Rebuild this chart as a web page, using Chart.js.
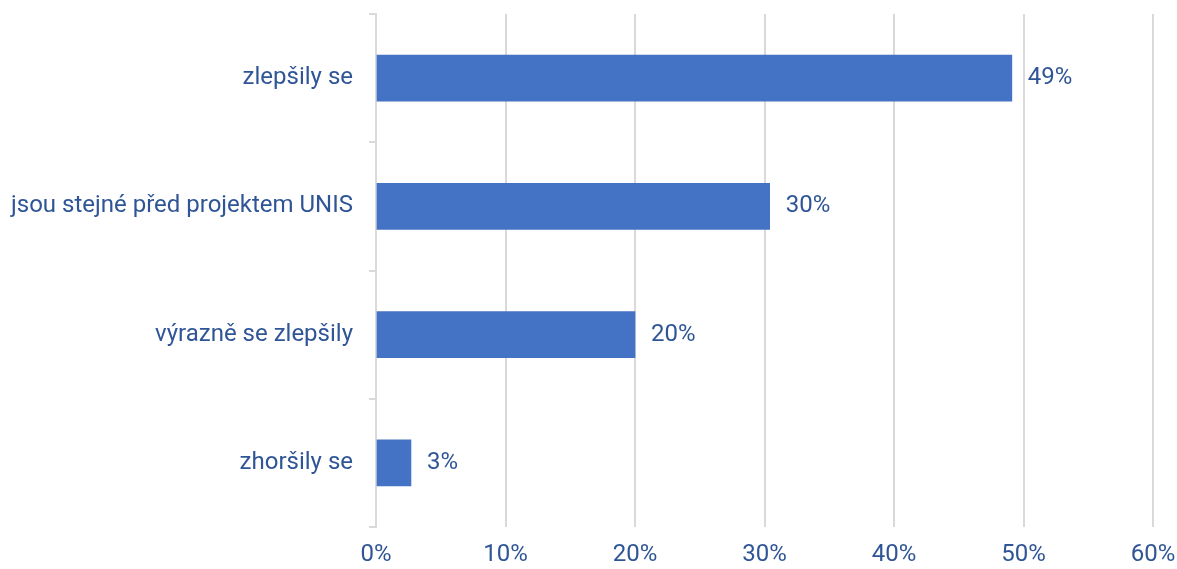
<!DOCTYPE html>
<html>
<head>
<meta charset="utf-8">
<script src="https://cdn.jsdelivr.net/npm/chart.js@4"></script>
<style>
html,body{margin:0;padding:0;background:#fff;}
#wrap{width:1177px;height:569px;}
</style>
</head>
<body>
<div id="wrap"><canvas id="graf"></canvas></div>
<script>
// Data
const kategorie = ["zlepšily se", "jsou stejné před projektem UNIS", "výrazně se zlepšily", "zhoršily se"];
const hodnoty = [49.1, 30.4, 20.0, 2.7];
const popisky = ["49%", "30%", "20%", "3%"];
const osaX = [0, 10, 20, 30, 40, 50, 60];

const barvaTextu = "#2F5597";
const pismo = {family: "Roboto", size: 24};

// popisky u sloupcu
const popiskyPlugin = {
  id: "popisky",
  afterDatasetsDraw(chart){
    const ctx = chart.ctx;
    const meta = chart.getDatasetMeta(0);
    ctx.save();
    ctx.font = "24px Roboto";
    ctx.fillStyle = barvaTextu;
    ctx.textAlign = "left";
    ctx.textBaseline = "middle";
    meta.data.forEach((bar, i) => {
      ctx.fillText(popisky[i], bar.x + 16, bar.y);
    });
    ctx.restore();
  }
};

new Chart(document.getElementById("graf"), {
  type: "bar",
  data: {
    labels: kategorie,
    datasets: [{data: hodnoty, backgroundColor: "#4472C4", barThickness: 46}]
  },
  options: {
    indexAxis: "y",
    responsive: true,
    maintainAspectRatio: false,
    animation: false,
    layout: {padding: {top: 14, right: 0, left: 0, bottom: 0}},
    plugins: {legend: {display: false}, tooltip: {enabled: false}},
    scales: {
      x: {
        min: 0, max: 60,
        afterBuildTicks: s => { s.ticks = osaX.map(v => ({value: v})); },
        afterFit: s => { s.paddingLeft = 0; s.paddingRight = 24; s.height = 42; },
        grid: {color: "#D9D9D9", lineWidth: 2, drawTicks: false},
        border: {display: false},
        ticks: {color: barvaTextu, font: pismo, padding: 14, callback: v => v + "%"}
      },
      y: {
        afterFit: s => { s.width = 376; s.paddingTop = 0; s.paddingBottom = 0; },
        grid: {drawOnChartArea: false, drawTicks: true, tickLength: 7, color: "#D9D9D9", lineWidth: 2},
        border: {display: true, color: "#D9D9D9", width: 2},
        ticks: {color: barvaTextu, font: pismo, padding: 16}
      }
    }
  },
  plugins: [popiskyPlugin]
});
</script>
</body>
</html>
